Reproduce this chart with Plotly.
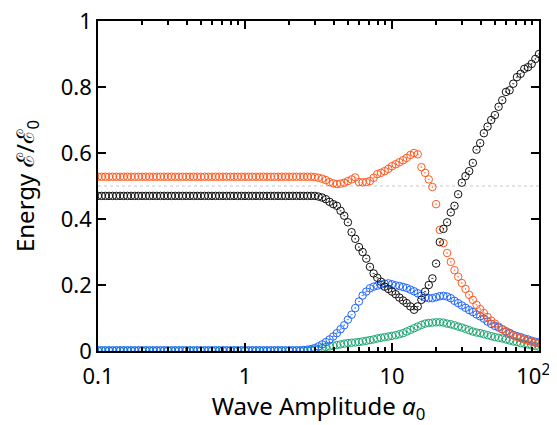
import numpy as np
import plotly.graph_objects as go

# sampling grid: 121 log-spaced amplitudes from 0.1 to 100
a0 = np.logspace(-1, 2, 121)

black = [0.47] * 59 + [
    0.47, 0.468, 0.465, 0.46, 0.452, 0.445, 0.44, 0.425, 0.41, 0.39,
    0.36, 0.34, 0.315, 0.30, 0.28, 0.255, 0.235, 0.222, 0.21, 0.195,
    0.188, 0.18, 0.172, 0.162, 0.153, 0.145, 0.135, 0.125, 0.135, 0.155,
    0.18, 0.20, 0.22, 0.265, 0.33, 0.37, 0.39, 0.42, 0.44, 0.475,
    0.51, 0.53, 0.545, 0.57, 0.61, 0.63, 0.66, 0.68, 0.70, 0.715,
    0.74, 0.76, 0.785, 0.79, 0.81, 0.83, 0.84, 0.855, 0.86, 0.87,
    0.885, 0.90]

orange = [0.528] * 59 + [
    0.527, 0.525, 0.522, 0.518, 0.512, 0.508, 0.506, 0.507, 0.51, 0.515,
    0.52, 0.526, 0.512, 0.511, 0.512, 0.515, 0.525, 0.536, 0.54, 0.545,
    0.552, 0.56, 0.566, 0.572, 0.578, 0.585, 0.594, 0.60, 0.596, 0.557,
    0.54, 0.52, 0.497, 0.445, 0.367, 0.327, 0.297, 0.27, 0.245, 0.225,
    0.206, 0.188, 0.17, 0.155, 0.14, 0.127, 0.115, 0.103, 0.092, 0.083,
    0.074, 0.066, 0.058, 0.052, 0.047, 0.043, 0.039, 0.035, 0.031, 0.028,
    0.025, 0.023]

blue = [0.002] * 56 + [
    0.003, 0.004, 0.006, 0.009, 0.014, 0.02, 0.027, 0.035, 0.044, 0.054,
    0.066, 0.078, 0.095, 0.11, 0.13, 0.15, 0.168, 0.18, 0.19, 0.195,
    0.198, 0.201, 0.204, 0.205, 0.202, 0.199, 0.197, 0.194, 0.191, 0.186,
    0.181, 0.175, 0.168, 0.162, 0.16, 0.16, 0.163, 0.166, 0.167, 0.165,
    0.16, 0.152, 0.145, 0.138, 0.131, 0.124, 0.118, 0.111, 0.105, 0.098,
    0.089, 0.082, 0.076, 0.071, 0.066, 0.06, 0.055, 0.049, 0.045, 0.042,
    0.038, 0.035, 0.031, 0.028, 0.026]

green = [0.001] * 58 + [
    0.002, 0.004, 0.006, 0.009, 0.012, 0.014, 0.016, 0.018, 0.02, 0.022,
    0.024, 0.025, 0.026, 0.027, 0.029, 0.031, 0.033, 0.035, 0.038, 0.04,
    0.042, 0.044, 0.046, 0.048, 0.051, 0.054, 0.059, 0.064, 0.069, 0.074,
    0.079, 0.083, 0.085, 0.086, 0.087, 0.087, 0.086, 0.083, 0.081, 0.078,
    0.074, 0.071, 0.067, 0.063, 0.059, 0.056, 0.054, 0.051, 0.048, 0.045,
    0.042, 0.04, 0.038, 0.035, 0.032, 0.029, 0.027, 0.024, 0.022, 0.02,
    0.017, 0.015, 0.013]

x_tickvals = [0.1, 1, 10, 100]
x_ticktext = ["0.1", "1", "10", "10<sup>2</sup>\u00a0\u00a0"]
y_tickvals = [0, 0.2, 0.4, 0.6, 0.8, 1]
y_ticktext = ["0", "0.2", "0.4", "0.6", "0.8", "1"]
ref_level = 0.5

series = [
    ("green", green, "#1fa774"),
    ("blue", blue, "#1f66ff"),
    ("orange", orange, "#ff5a1f"),
    ("black", black, "#111111"),
]

fig = go.Figure()
for name, ys, col in series:
    fig.add_trace(go.Scatter(
        x=a0, y=ys, mode="markers", name=name,
        marker=dict(symbol="circle-open-dot", size=7.5, color=col,
                    line=dict(width=1.0, color=col)),
        showlegend=False))

fig.add_hline(y=ref_level, line=dict(color="#c8c8c8", width=1, dash="dot"),
              layer="below")

minor_vals = [m * 10 ** d for d in (-1, 0, 1) for m in range(2, 10)]

font = "'Noto Sans', 'Open Sans', sans-serif"
# page body adds an 8px margin, so the figure is sized/offset to compensate
fig.update_layout(
    width=549, height=417,
    margin=dict(l=90, r=18, t=13, b=74, autoexpand=False),
    paper_bgcolor="white", plot_bgcolor="white",
    font=dict(family=font, size=22, color="#000"),
    xaxis=dict(
        type="log", range=[-1, 2],
        tickvals=x_tickvals, ticktext=x_ticktext,
        ticks="inside", ticklen=8, tickwidth=1.5, tickcolor="black",
        showline=True, linecolor="black", linewidth=1.5, mirror="allticks",
        showgrid=False, zeroline=False, ticklabeloverflow="allow",
        ticklabelstandoff=5,
        minor=dict(tickvals=minor_vals, ticks="inside", ticklen=4,
                   tickwidth=1.5, tickcolor="black", showgrid=False),
        title=dict(text="Wave Amplitude <i>a</i><sub>0</sub>", standoff=6,
                   font=dict(size=24)),
    ),
    yaxis=dict(
        range=[0, 1],
        tickvals=y_tickvals, ticktext=y_ticktext,
        ticks="inside", ticklen=8, tickwidth=1.5, tickcolor="black",
        showline=True, linecolor="black", linewidth=1.5, mirror="allticks",
        showgrid=False, zeroline=False, ticklabeloverflow="allow",
        title=dict(text="Energy <i>ℰ</i>/<i>ℰ</i><sub>0</sub>", standoff=31,
                   font=dict(size=24)),
    ),
)

fig.write_html("out.html")
